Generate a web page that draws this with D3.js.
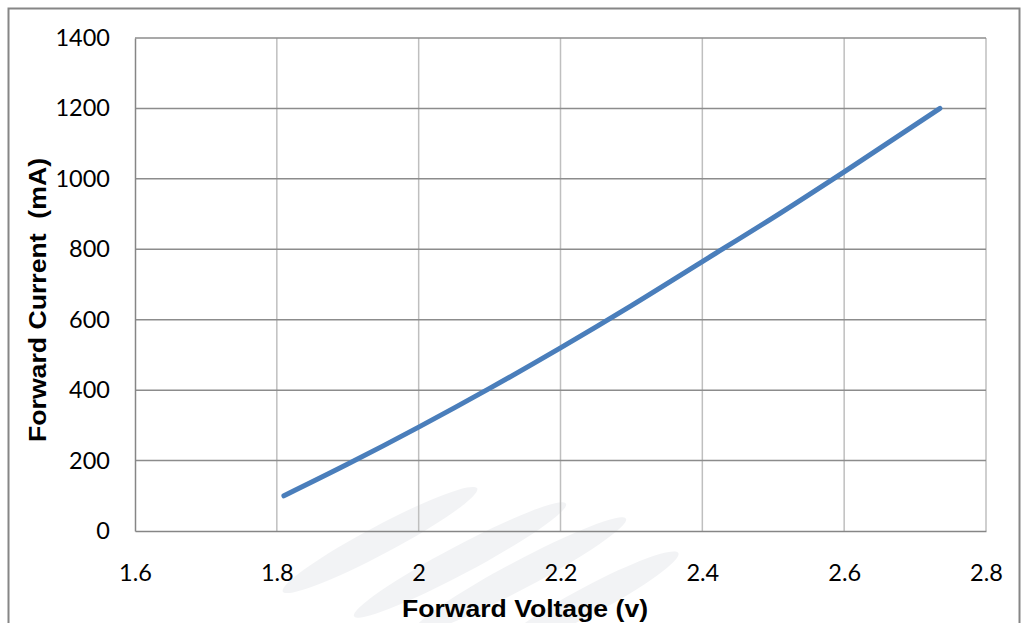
<!DOCTYPE html>
<html>
<head>
<meta charset="utf-8">
<script src="https://cdn.jsdelivr.net/npm/d3@7"></script>
<style>
  body { margin: 0; background: #fff; }
  svg { display: block; }
</style>
</head>
<body>
<svg width="1024" height="623"></svg>
<script>
// forward voltage (V) vs forward current (mA)
var voltage = [1.81, 1.90, 2.00, 2.10, 2.20, 2.30, 2.40, 2.50, 2.60, 2.735];
var current = [100, 190, 295, 405, 520, 640, 765, 890, 1020, 1200];
var xTicks = [1.6, 1.8, 2, 2.2, 2.4, 2.6, 2.8];
var yTicks = [0, 200, 400, 600, 800, 1000, 1200, 1400];

var svg = d3.select("svg");
var plotL = 135, plotR = 986, plotT = 38, plotB = 531;

var x = d3.scaleLinear().domain([1.6, 2.8]).range([plotL, plotR]);
var y = d3.scaleLinear().domain([0, 1400]).range([plotB, plotT]);

// outer chart border
svg.append("rect").attr("x", 8.5).attr("y", 8.5).attr("width", 1011).attr("height", 640)
  .attr("fill", "none").attr("stroke", "#868686").attr("stroke-width", 2);

// faint watermark shapes behind the plot
var wm = svg.append("g").attr("opacity", 0.5);
[[380, 540, 110], [460, 560, 120], [520, 575, 120], [590, 600, 100]].forEach(function (e) {
  wm.append("ellipse").attr("cx", e[0]).attr("cy", e[1]).attr("rx", e[2]).attr("ry", 14)
    .attr("transform", "rotate(-28," + e[0] + "," + e[1] + ")")
    .attr("fill", "#e6e8ec");
});

// vertical gridlines
svg.append("g").selectAll("line").data(xTicks.slice(1)).enter().append("line")
  .attr("x1", function (d) { return x(d); }).attr("x2", function (d) { return x(d); })
  .attr("y1", plotT).attr("y2", plotB)
  .attr("stroke", "#bfbfbf").attr("stroke-width", 1.5);

// horizontal gridlines
svg.append("g").selectAll("line").data(yTicks.slice(1)).enter().append("line")
  .attr("x1", plotL).attr("x2", plotR)
  .attr("y1", function (d) { return y(d); }).attr("y2", function (d) { return y(d); })
  .attr("stroke", "#8c8c8c").attr("stroke-width", 1.5);

// axes
var xAxis = svg.append("g").attr("transform", "translate(0," + plotB + ")")
  .call(d3.axisBottom(x).tickValues(xTicks).tickSize(0).tickPadding(33).tickFormat(d3.format("")));
var yAxis = svg.append("g").attr("transform", "translate(" + plotL + ",0)")
  .call(d3.axisLeft(y).tickValues(yTicks).tickSize(0).tickPadding(25).tickFormat(d3.format("")));
[xAxis, yAxis].forEach(function (a) {
  a.select(".domain").attr("stroke", "#868686").attr("stroke-width", 1.5);
  a.selectAll("text").attr("font-family", "Lato, 'Open Sans', sans-serif")
    .attr("font-size", 23.5).attr("fill", "#000");
});

// curve
var pts = voltage.map(function (v, i) { return [v, current[i]]; });
svg.append("path").datum(pts)
  .attr("fill", "none").attr("stroke", "#4a7ebb").attr("stroke-width", 5)
  .attr("stroke-linecap", "round")
  .attr("d", d3.line().x(function (d) { return x(d[0]); }).y(function (d) { return y(d[1]); })
    .curve(d3.curveMonotoneX));

// axis titles
svg.append("text").attr("x", 525).attr("y", 617).attr("text-anchor", "middle")
  .attr("font-family", "'Liberation Sans', Arial, sans-serif").attr("font-weight", "bold")
  .attr("font-size", 24).attr("textLength", 246).attr("lengthAdjust", "spacingAndGlyphs")
  .text("Forward Voltage (v)");
svg.append("text").attr("transform", "translate(46,300) rotate(-90)").attr("text-anchor", "middle")
  .attr("font-family", "'Liberation Sans', Arial, sans-serif").attr("font-weight", "bold")
  .attr("font-size", 24).attr("textLength", 284).attr("lengthAdjust", "spacingAndGlyphs")
  .attr("xml:space", "preserve").text("Forward Current  (mA)");
</script>
</body>
</html>
